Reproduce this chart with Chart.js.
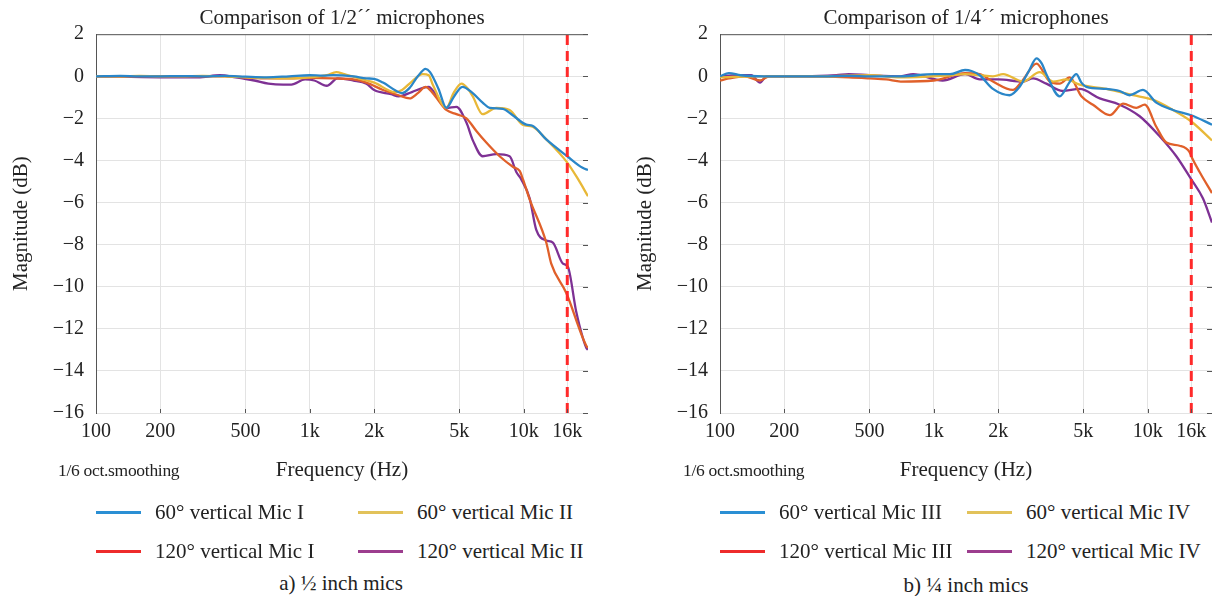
<!DOCTYPE html>
<html>
<head>
<meta charset="utf-8">
<script src="https://cdn.jsdelivr.net/npm/chart.js@4"></script>
<style>
  html, body { margin: 0; padding: 0; background: #fff; overflow: hidden; }
  body { width: 1214px; height: 596px; position: relative; font-family: 'Liberation Serif', 'Times New Roman', serif; color: #222; }
  canvas { position: absolute; top: 0; }
  #leftChart { left: 0; }
  #rightChart { left: 624px; }
  .note { position: absolute; font-size: 17.5px; letter-spacing: -0.3px; }
  .item { position: absolute; height: 24px; display: flex; align-items: center; font-size: 21px; white-space: nowrap; }
  .item span.sw { display: inline-block; width: 45px; height: 3px; margin-right: 14px; }
  .caption { position: absolute; width: 300px; text-align: center; font-size: 21px; line-height: 24px; }
</style>
</head>
<body>
<canvas id="leftChart" width="684" height="490"></canvas>
<canvas id="rightChart" width="684" height="490"></canvas>

<script>
// x ticks (Hz) and their labels
const freqTicks = [100, 200, 500, 1000, 2000, 5000, 10000, 16000];
const freqLabels = ['100', '200', '500', '1k', '2k', '5k', '10k', '16k'];
const cutoffHz = 16000;

// ---- 1/2" mics, [frequency Hz, magnitude dB] ----
const micI60 = [[100,0],[130,0.02],[160,0],[200,0],[250,0.01],[315,0],[400,0.02],[500,-0.02],[630,-0.05],[800,0],[1000,0.05],[1150,0.03],[1285,0.06],[1600,0],[1840,-0.1],[2000,-0.12],[2200,-0.3],[2540,-0.7],[2700,-0.8],[2930,-0.55],[3200,0],[3480,0.35],[3650,0.2],[4000,-0.6],[4350,-1.5],[4700,-1.0],[5170,-0.5],[5780,-0.8],[6430,-1.25],[6940,-1.5],[7980,-1.55],[8890,-1.85],[10300,-2.3],[11000,-2.35],[12760,-3.0],[16000,-3.8],[18870,-4.35],[20000,-4.45]];
const micII60 = [[100,0],[130,0],[160,0.02],[200,0],[250,0],[315,0.02],[400,0],[500,-0.05],[630,-0.08],[800,-0.1],[1000,-0.05],[1200,0.05],[1330,0.2],[1450,0.1],[1840,-0.2],[2000,-0.3],[2500,-0.75],[2700,-0.65],[3000,-0.25],[3375,0.1],[3600,0.05],[3760,-0.4],[4350,-1.5],[4700,-0.8],[5120,-0.35],[5500,-0.6],[5780,-0.95],[6430,-1.8],[7450,-1.5],[8600,-1.6],[9890,-2.3],[11000,-2.4],[12760,-3.0],[16000,-4.1],[18000,-4.9],[20000,-5.7]];
const micI120 = [[100,0],[160,0],[200,0.01],[300,0],[400,0],[500,-0.05],[630,-0.1],[800,-0.1],[1000,-0.08],[1285,-0.1],[1600,-0.15],[1840,-0.3],[2200,-0.65],[2600,-0.9],[2930,-1.05],[3200,-0.8],[3480,-0.5],[3760,-0.8],[4350,-1.6],[4850,-1.8],[5400,-2.0],[6010,-2.6],[6690,-3.15],[7720,-3.8],[8900,-4.3],[9580,-4.5],[9930,-4.9],[10670,-5.85],[12760,-7.9],[13460,-8.9],[15830,-10.3],[19630,-12.8],[20000,-12.9]];
const micII120 = [[100,0],[200,-0.05],[300,-0.05],[380,0.05],[450,-0.05],[550,-0.2],[640,-0.35],[750,-0.4],[820,-0.4],[950,-0.15],[1050,-0.2],[1200,-0.45],[1350,-0.1],[1600,-0.2],[1840,-0.35],[2000,-0.65],[2400,-0.85],[2600,-0.95],[3000,-0.75],[3380,-0.55],[3600,-0.5],[3900,-0.9],[4350,-1.5],[4850,-1.45],[5400,-2.2],[5790,-3.05],[6430,-3.8],[7450,-3.7],[8600,-3.8],[9240,-4.55],[9750,-4.9],[10670,-5.8],[11460,-7.3],[12760,-7.8],[13700,-7.9],[15270,-8.9],[16100,-9.05],[17630,-11.2],[19630,-12.9],[20000,-13.0]];

// ---- 1/4" mics ----
const micIII60 = [[100,0],[110,0.15],[125,0.05],[160,0],[200,0],[300,0],[400,0.02],[500,0],[700,0],[1000,0.1],[1190,0.1],[1400,0.3],[1500,0.25],[1640,0.05],[1890,-0.6],[2260,-0.9],[2520,-0.5],[2800,0.3],[3020,0.85],[3200,0.6],[3360,0.1],[3880,-0.95],[4300,-0.3],[4640,0.1],[4900,-0.3],[5170,-0.5],[6410,-0.6],[7400,-0.7],[8240,-0.9],[9510,-0.65],[10980,-1.25],[13130,-1.6],[16000,-1.85],[20000,-2.3]];
const micIV60 = [[100,-0.05],[150,0],[300,0],[500,0.05],[700,-0.05],[1190,0.05],[1400,0.1],[1640,0.05],[1890,0],[2110,0.1],[2610,-0.25],[3130,0.2],[3610,-0.25],[4170,-0.15],[4810,-0.4],[6410,-0.6],[8540,-0.9],[10500,-1.1],[13130,-1.6],[16000,-2.15],[20000,-3.05]];
const micIII120 = [[100,-0.2],[110,-0.1],[130,0],[154,-0.2],[170,0],[250,0],[400,-0.05],[500,-0.1],[600,-0.15],[700,-0.25],[1000,-0.2],[1400,0.15],[1640,0.1],[1890,-0.25],[2340,-0.65],[2600,-0.2],[3020,0.6],[3480,-0.25],[3880,-0.35],[4320,-0.05],[4900,-0.95],[5550,-1.35],[6650,-1.85],[7670,-1.3],[8850,-1.5],[9690,-1.35],[10980,-2.4],[12230,-3.15],[14110,-3.3],[15710,-3.6],[16000,-3.8],[17500,-4.55],[20000,-5.55]];
const micIV120 = [[100,0],[120,0.05],[140,0.05],[154,-0.3],[165,0],[250,0],[350,0.05],[400,0.1],[500,0.05],[700,0],[800,0.1],[1100,-0.2],[1400,0.1],[1640,-0.15],[2000,-0.15],[2610,-0.25],[2910,-0.1],[3360,-0.35],[4000,-0.7],[4810,-0.6],[5970,-1.05],[7400,-1.35],[9180,-1.9],[11380,-2.85],[13620,-3.8],[16000,-4.9],[18130,-5.8],[20000,-6.95]];

const halfLabels = ['60° vertical Mic I', '60° vertical Mic II', '120° vertical Mic I', '120° vertical Mic II'];
const quarterLabels = ['60° vertical Mic III', '60° vertical Mic IV', '120° vertical Mic III', '120° vertical Mic IV'];

const lineColors = ['#2a86c8', '#e8b838', '#e0602a', '#7e3194'];
const swatchColors = ['#2a8fd4', '#e2c25a', '#ee2b2b', '#9c3d8e'];

const serif = "'Liberation Serif', 'Times New Roman', serif";
Chart.defaults.font.family = serif;
Chart.defaults.color = '#222';

// box edge + inward tick marks like the original figure
const boxTicks = {
    id: 'boxTicks',
    afterDraw(chart) {
        const { ctx, chartArea: a, scales: { x, y } } = chart;
        ctx.save();
        ctx.strokeStyle = '#555';
        ctx.lineWidth = 1;
        ctx.beginPath();
        ctx.moveTo(a.left, a.top + 0.5);
        ctx.lineTo(a.right, a.top + 0.5);
        y.ticks.forEach(t => {
            const py = Math.round(y.getPixelForValue(t.value)) + 0.5;
            ctx.moveTo(a.right - 5, py);
            ctx.lineTo(a.right, py);
        });
        x.ticks.forEach(t => {
            const px = Math.round(x.getPixelForValue(t.value)) + 0.5;
            ctx.moveTo(px, a.bottom);
            ctx.lineTo(px, a.bottom - 4);
        });
        ctx.stroke();
        ctx.restore();
    }
};

function toPoints(arr) {
    return arr.map(p => ({ x: p[0], y: p[1] }));
}

function makeChart(id, title, series) {
    const datasets = [{
        data: [{ x: cutoffHz, y: -16 }, { x: cutoffHz, y: 2 }],
        borderColor: '#ff2a2a',
        borderWidth: 3,
        borderDash: [10, 6],
        pointRadius: 0
    }];
    series.forEach((s, i) => {
        datasets.push({
            data: toPoints(s),
            borderColor: lineColors[i],
            borderWidth: 2.3,
            pointRadius: 0,
            cubicInterpolationMode: 'monotone'
        });
    });

    return new Chart(document.getElementById(id), {
        type: 'line',
        data: { datasets: datasets },
        options: {
            responsive: false,
            animation: false,
            layout: { padding: { left: 0, right: 96, top: 0, bottom: 0 } },
            plugins: {
                legend: { display: false },
                tooltip: { enabled: false },
                title: {
                    display: true,
                    text: title,
                    fullSize: false,
                    color: '#222',
                    font: { size: 21, weight: 'normal', family: serif },
                    padding: { top: 6, bottom: 3 }
                }
            },
            scales: {
                x: {
                    type: 'logarithmic',
                    min: 100,
                    max: 20000,
                    afterBuildTicks: s => { s.ticks = freqTicks.map(v => ({ value: v })); },
                    afterFit: s => { s.height = 77; },
                    ticks: {
                        autoSkip: false,
                        maxRotation: 0,
                        padding: 7,
                        color: '#222',
                        font: { size: 20, family: serif },
                        callback: v => freqLabels[freqTicks.indexOf(v)]
                    },
                    grid: { color: '#e3e3e3', drawTicks: false },
                    border: { display: false },
                    title: {
                        display: true,
                        text: 'Frequency (Hz)',
                        color: '#222',
                        font: { size: 21, family: serif },
                        padding: { top: 0, bottom: 7 }
                    }
                },
                y: {
                    min: -16,
                    max: 2,
                    afterFit: s => { s.width = 96; },
                    ticks: {
                        stepSize: 2,
                        padding: 12,
                        color: '#222',
                        font: { size: 20, family: serif },
                        callback: v => (v < 0 ? '\u2212' + Math.abs(v) : String(v))
                    },
                    grid: { color: '#e3e3e3', drawTicks: false },
                    border: { display: true, color: '#555', width: 1 },
                    title: {
                        display: true,
                        text: 'Magnitude (dB)',
                        color: '#222',
                        font: { size: 21, family: serif },
                        padding: { top: 9, bottom: 0 }
                    }
                }
            }
        },
        plugins: [boxTicks]
    });
}

makeChart('leftChart', 'Comparison of 1/2\u00B4\u00B4 microphones', [micI60, micII60, micI120, micII120]);
makeChart('rightChart', 'Comparison of 1/4\u00B4\u00B4 microphones', [micIII60, micIV60, micIII120, micIV120]);

// legends and captions under each chart
function addText(cls, text, left, top, extra) {
    const d = document.createElement('div');
    d.className = cls;
    d.style.left = left + 'px';
    d.style.top = top + 'px';
    if (extra) d.innerHTML = extra;
    d.appendChild(document.createTextNode(text));
    document.body.appendChild(d);
    return d;
}

function addLegend(labels, cols, rows) {
    labels.forEach((lab, i) => {
        const x = cols[i % 2];
        const y = rows[Math.floor(i / 2)];
        addText('item', lab, x, y - 12, '<span class="sw" style="background:' + swatchColors[i] + '"></span>');
    });
}

addText('note', '1/6 oct.smoothing', 58, 460);
addText('note', '1/6 oct.smoothing', 683, 460);
addLegend(halfLabels, [96, 358], [512, 551]);
addLegend(quarterLabels, [720, 967], [512, 551]);
addText('caption', 'a) \u00BD inch mics', 341 - 150, 571);
addText('caption', 'b) \u00BC inch mics', 966 - 150, 573);
</script>
</body>
</html>
